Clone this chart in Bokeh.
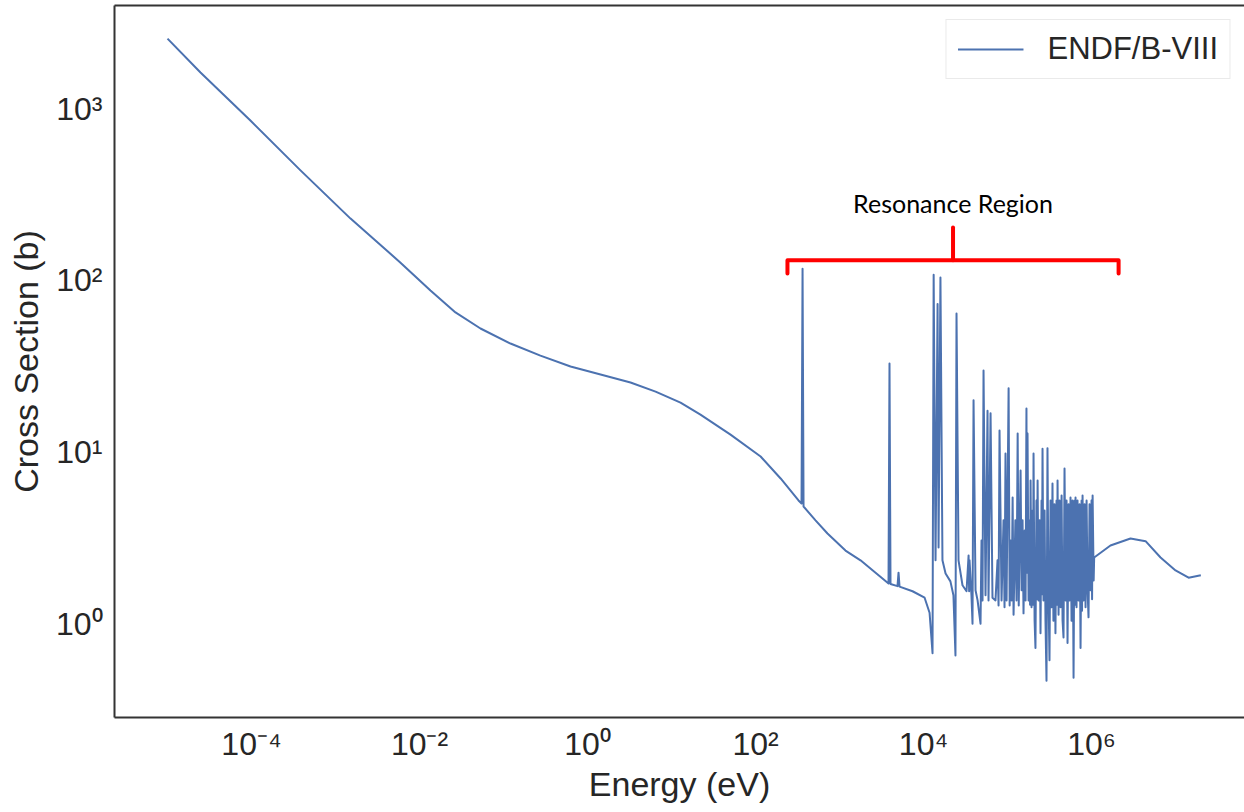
import math
from bokeh.plotting import figure
from bokeh.models import Range1d, FixedTicker, LogAxis, Legend, LegendItem, Label
from bokeh.embed import file_html
from bokeh.resources import INLINE

# ---------------- data ----------------
# smooth 1/v + potential-scattering part (eV, barns)
E_low = [1e-5, 2.47e-5, 9.7e-5, 3.83e-4, 1.51e-3, 5.94e-3, 0.0135, 0.0268, 0.0532,
         0.121, 0.275, 0.628, 1.43, 3.25, 6.46, 12.8, 22.1, 50.4, 115, 199, 325]
sig_low = [2550, 1620, 851, 437, 229, 127, 87.5, 65.2, 52.6,
           43.0, 36.6, 31.6, 28.4, 25.5, 22.6, 19.5, 16.6, 12.7, 9.48, 7.06, 5.26]

# resolved resonance region (eV, barns)
E_res = [353, 363, 373, 518, 719, 1178, 1778, 2685, 3830, 3935, 4045, 4900, 5040, 5180,
         7400, 10300, 11800, 12800, 13200, 13900, 14700, 15100, 15900, 16800, 18300,
         20900, 22700, 24000, 24700, 26100, 29100, 32500, 34400, 34900, 35300, 37200,
         38300, 39400, 41600, 44000, 47700, 49000, 50400, 51800, 54700, 57800, 59400,
         62800, 66200, 71900, 76000, 78200, 80300, 84900, 89600, 92100, 94600, 97400,
         103000, 106000, 109000, 112000, 115000, 118000, 124000, 128000, 132000, 136000,
         143000, 147000, 151000, 155000, 160000, 164000, 168000, 170000, 173000, 178000,
         183000, 185500, 188000, 193000, 199000, 201500, 204000, 210000, 215000, 221000,
         224000, 228000, 234000, 241000, 247000, 254000, 257000, 261000, 268000, 276000,
         283000, 291000, 299000, 307000, 316000, 325000, 334000, 343000, 352000, 362000,
         372000, 383000, 388000, 394000, 405000, 416000, 428000, 440000, 452000, 464000,
         477000, 491000, 504000, 518000, 533000, 548000, 562000, 578000, 594000, 611000,
         628000, 636000, 645000, 663000, 681000, 700000, 720000, 740000, 761000, 771000,
         782000, 804000, 826000, 849000, 873000, 897000, 921000, 947000, 973000, 1000000,
         1015000, 1030000, 1060000, 1075000]
sig_res = [5.05, 117, 4.85, 4.03, 3.38, 2.69, 2.36, 2.00, 1.73, 32.9, 1.72, 1.67, 2.0, 1.66,
           1.56, 1.43, 1.17, 0.68, 108, 2.36, 73, 2.8, 104, 2.36, 1.98,
           1.78, 1.48, 0.66, 64.3, 2.36, 1.69, 1.56, 2.52, 1.56, 2.36, 1.48,
           1.01, 20.1, 1.58, 1.38, 1.01, 3.08, 1.38, 30.0, 1.48, 17.5, 1.38,
           16.9, 1.43, 1.38, 2.36, 1.29, 13.4, 1.38, 4.03, 1.26, 9.86, 1.38,
           23.6, 1.29, 3.08, 1.38, 5.47, 1.14, 4.03, 1.38, 12.9, 1.29,
           7.86, 1.58, 4.03, 1.16, 3.52, 1.38, 18.0, 2.0, 12.9, 1.38,
           4.03, 1.3, 6.87, 1.26, 4.6, 1.3, 9.86, 1.05, 0.73, 5.26,
           1.4, 6.87, 1.38, 4.03, 0.89, 5.26, 1.5, 10.5, 1.38, 4.6,
           1.05, 0.47, 10.6, 1.58, 0.62, 5.26, 1.26, 6.6, 1.05, 5.0,
           0.89, 5.26, 1.3, 6.87, 1.14, 5.26, 1.26, 5.62, 1.05, 0.84,
           8.07, 1.38, 5.26, 0.78, 5.0, 1.38, 5.47, 1.05, 5.26, 0.49,
           5.26, 1.3, 5.47, 1.26, 5.26, 1.38, 5.0, 0.73, 5.26, 1.2,
           5.62, 1.38, 5.0, 1.26, 5.26, 1.58, 1.10, 5.0, 1.58, 5.26,
           1.4, 5.62, 1.80, 2.45]

# fast-neutron part (eV, barns)
E_high = [1.68e6, 2.91e6, 4.4e6, 6.63e6, 1.0e7, 1.43e7, 2.0e7]
sig_high = [2.88, 3.16, 3.05, 2.45, 2.06, 1.87, 1.93]

energy = E_low + E_res + E_high
sigma = sig_low + sig_res + sig_high

x_ticks = [1e-4, 1e-2, 1e0, 1e2, 1e4, 1e6]
x_tick_labels = ["10\u207b\u2074", "10\u207b\u00b2", "10\u2070", "10\u00b2", "10\u2074", "10\u2076"]
y_ticks = [1, 10, 100, 1000]
y_tick_labels = ["10\u2070", "10\u00b9", "10\u00b2", "10\u00b3"]

series_label = "ENDF/B-VIII"
annotation_text = "Resonance Region"
bracket_left_E, bracket_right_E = 240, 2.1e6
bracket_y, bracket_end_y, bracket_tip_y = 131, 110, 203
annotation_y = 284

# ---------------- figure ----------------
FONT = "Liberation Sans"
TXT = "#262626"

p = figure(frame_width=1130, frame_height=712,
           x_axis_type="log", y_axis_type="log",
           x_range=Range1d(10 ** -5.631, 10 ** 7.821),
           y_range=Range1d(10 ** -0.541, 10 ** 3.599),
           output_backend="svg", toolbar_location=None,
           min_border_left=114, min_border_right=0, min_border_top=5, min_border_bottom=95)

p.outline_line_color = None
p.background_fill_color = "white"
p.border_fill_color = "white"
p.grid.grid_line_color = None

for ax in (p.xaxis[0], p.yaxis[0]):
    ax.axis_line_color = "#333333"
    ax.axis_line_width = 2
    ax.major_tick_line_color = None
    ax.minor_tick_line_color = None
    ax.major_tick_out = 0
    ax.major_tick_in = 0
    ax.major_label_text_font = FONT
    ax.major_label_text_font_size = "32px"
    ax.major_label_text_color = TXT
    ax.axis_label_text_font = FONT
    ax.axis_label_text_font_size = "34px"
    ax.axis_label_text_font_style = "normal"
    ax.axis_label_text_color = TXT

p.xaxis[0].ticker = FixedTicker(ticks=x_ticks, minor_ticks=[])
p.xaxis[0].major_label_overrides = {t: l for t, l in zip(x_ticks, x_tick_labels)}
p.xaxis[0].major_label_standoff = 8
p.xaxis[0].axis_label = "Energy (eV)"
p.xaxis[0].axis_label_standoff = 0

p.yaxis[0].ticker = FixedTicker(ticks=y_ticks, minor_ticks=[])
p.yaxis[0].major_label_overrides = {t: l for t, l in zip(y_ticks, y_tick_labels)}
p.yaxis[0].major_label_standoff = 12
p.yaxis[0].axis_label = "Cross Section (b)"
p.yaxis[0].axis_label_standoff = 8

top = LogAxis(ticker=FixedTicker(ticks=[], minor_ticks=[]))
top.axis_line_color = "#333333"
top.axis_line_width = 2
top.major_tick_line_color = None
top.minor_tick_line_color = None
top.major_tick_out = 0
top.major_label_standoff = 0
top.major_label_text_font_size = "0px"
p.add_layout(top, "above")

r = p.line(energy, sigma, line_color="#4C72B0", line_width=2, line_join="round")

legend = Legend(items=[LegendItem(label=series_label, renderers=[r])],
                location="top_right", margin=14, padding=11,
                glyph_width=66, glyph_height=32, label_standoff=24,
                label_text_font=FONT, label_text_font_size="31px",
                label_text_color=TXT, label_height=32,
                border_line_color="#d6d6d6", border_line_width=1,
                background_fill_color="white", background_fill_alpha=0.8)
p.add_layout(legend)

# bracket annotation
center_E = math.sqrt(bracket_left_E * bracket_right_E)
p.line([bracket_left_E, bracket_left_E, bracket_right_E, bracket_right_E],
       [bracket_end_y, bracket_y, bracket_y, bracket_end_y],
       line_color="#FF0000", line_width=4, line_join="round", line_cap="round")
p.line([center_E, center_E], [bracket_y, bracket_tip_y],
       line_color="#FF0000", line_width=4, line_cap="round")

p.add_layout(Label(x=center_E, y=annotation_y, text=annotation_text,
                   text_font="Lato", text_font_size="25px", text_color="black",
                   text_align="center", text_baseline="middle"))

open("out.html", "w").write(file_html(p, INLINE))
